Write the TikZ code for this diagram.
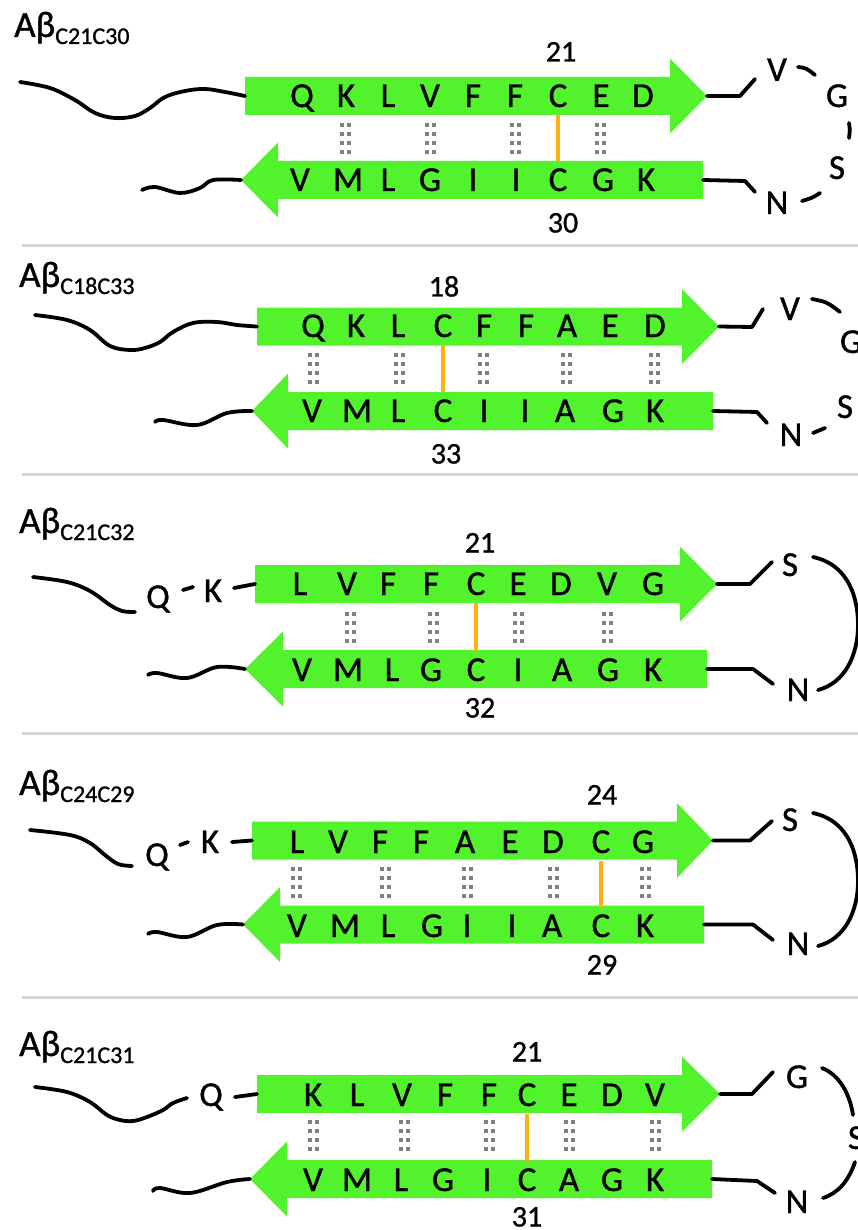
\documentclass[tikz,border=0pt]{standalone}
\usepackage{fontspec}
\setmainfont{Carlito}[UprightFeatures={FakeBold=1.0}]
\definecolor{sgreen}{RGB}{82,243,44}
\definecolor{sorange}{RGB}{255,176,20}
\definecolor{hbgray}{RGB}{128,128,128}
\definecolor{rule}{RGB}{212,212,212}

% rightward beta strand: name, body left x, head base x, tip x, centre y
\newcommand\betaright[5]{%
  \fill[strandfill] (#2,#5-19) -- (#3,#5-19) -- (#3,#5-37.5) -- (#4,#5)
    -- (#3,#5+37.5) -- (#3,#5+19) -- (#2,#5+19) -- cycle;
  \coordinate (#1-in) at (#2,#5);
  \coordinate (#1-out) at (#4,#5);}
% leftward beta strand: name, tip x, head base x, body right x, centre y
\newcommand\betaleft[5]{%
  \fill[strandfill] (#4,#5-19) -- (#3,#5-19) -- (#3,#5-37.5) -- (#2,#5)
    -- (#3,#5+37.5) -- (#3,#5+19) -- (#4,#5+19) -- cycle;
  \coordinate (#1-tip) at (#2,#5);
  \coordinate (#1-end) at (#4,#5);}
% disulfide bridge between two residue nodes, drawn vertically under the upper one
\newcommand\ssbridge[2]{%
  \draw[ssbond] ([yshift=-8pt]#1.south) -- ([yshift=8pt]#1.south |- #2.north);}

\tikzset{
  strandfill/.style={fill=sgreen},
  res/.style={font=\fontsize{35}{35}\selectfont, inner sep=0pt, text height=22pt, text depth=0pt},
  num/.style={font=\fontsize{30}{30}\selectfont, inner sep=0pt, text height=19pt, text depth=0pt},
  ttl/.style={anchor=base west, inner sep=0pt},
  chain/.style={line width=3.8pt, line cap=round, line join=round},
  ssbond/.style={draw=sorange, line width=3.8pt},
  divider/.style={draw=rule, line width=3pt},
  hb/.pic={\foreach \r in {0,9,18,27}{
      \fill[hbgray] (-5.5,\r) rectangle ++(4,4);
      \fill[hbgray] (1.5,\r) rectangle ++(4,4);}}
}
\newcommand\abname[1]{{\fontsize{37}{37}\selectfont Aβ}\raisebox{-7pt}{\fontsize{24}{24}\selectfont #1}}

\begin{document}
\begin{tikzpicture}[x=1pt,y=-1pt]
\useasboundingbox (0,0) rectangle (858,1230);
\clip (0,0) rectangle (858,1230);

% panel separators
\draw[divider] (22,246) coordinate (d1a) -- (858,246) coordinate (d1b);
\draw[divider] (22,474) coordinate (d2a) -- (858,474) coordinate (d2b);
\draw[divider] (22,733) coordinate (d3a) -- (858,733) coordinate (d3b);
\draw[divider] (22,997) coordinate (d4a) -- (858,997) coordinate (d4b);

% ---------------- C21C30 ----------------
\node[ttl] (t1) at (14,37) {\abname{C21C30}};
\betaright{s1u}{245}{670}{707}{96}
\betaleft{s1l}{241}{278}{703}{180}
\foreach \x/\t [count=\i] in {302/Q,346/K,388/L,430/V,473/F,515/F,558/C,601/E,643/D}
  \node[res] (a\i) at (\x,96) {\t};
\foreach \x/\t [count=\i] in {300/V,348/M,388/L,430/G,473/I,516/I,558/C,603/G,646/K}
  \node[res] (b\i) at (\x,180) {\t};
\foreach \x in {345,430,515,600} \pic at (\x,123) {hb};
\ssbridge{a7}{b7}
\node[num] (n1a) at (561,52) {21};
\node[num] (n1b) at (563,223) {30};
\draw[chain] plot[smooth,tension=0.6] coordinates {(20,82) (50,88) (75,100) (95,113) (115,118) (135,116) (150,108) (165,97) (185,91) (205,89) (225,92) (s1u-in)};
\draw[chain] plot[smooth,tension=0.6] coordinates {(142,190) (155,187) (180,193) (200,188) (213,180) (s1l-tip)};
\node[res] (l1v) at (777,70) {V};
\node[res] (l1g) at (837,96) {G};
\node[res] (l1s) at (837,168) {S};
\node[res] (l1n) at (777,203) {N};
\draw[chain] (s1u-out) -- (740,96) -- (755,79);
\draw[chain] (s1l-end) -- (745,181) -- (755,192);
\draw[chain] (798,67) .. controls (806,68) .. (815,75);
\draw[chain] (849,123) .. controls (850,130) .. (849,138);
\draw[chain] (820,193) .. controls (812,198) .. (802,201);

% ---------------- C18C33 ----------------
\node[ttl] (t2) at (19,287) {\abname{C18C33}};
\betaright{s2u}{257}{682}{719}{326.5}
\betaleft{s2l}{252}{288}{713}{411}
\foreach \x/\t [count=\i] in {313/Q,356/K,398/L,443/C,484/F,526/F,567/A,610/E,655/D}
  \node[res] (c\i) at (\x,326) {\t};
\foreach \x/\t [count=\i] in {312/V,357/M,398/L,443/C,484/I,525/I,565/A,613/G,655/K}
  \node[res] (d\i) at (\x,411) {\t};
\foreach \x in {313,399,483,566,654} \pic at (\x,353) {hb};
\ssbridge{c4}{d4}
\node[num] (n2a) at (444,287) {18};
\node[num] (n2b) at (446,454) {33};
\draw[chain] plot[smooth,tension=0.6] coordinates {(35,315) (67,320) (90,330) (110,346) (130,350) (145,348) (160,342) (173,332) (193,323) (217,322) (237,325) (s2u-in)};
\draw[chain] plot[smooth,tension=0.6] coordinates {(155,422) (163,420) (197,425) (227,413) (s2l-tip)};
\node[res] (l2v) at (790,309) {V};
\node[res] (l2g) at (851,342) {G};
\node[res] (l2s) at (845,407) {S};
\node[res] (l2n) at (791,435) {N};
\draw[chain] (s2u-out) -- (752,327) -- (763,309);
\draw[chain] (s2l-end) -- (757,412) -- (767,423);
\draw[chain] (812,299) .. controls (827,302) .. (840,312);
\draw[chain] (825,428) .. controls (819,431) .. (813,433);

% ---------------- C21C32 ----------------
\node[ttl] (t3) at (19,533) {\abname{C21C32}};
\betaright{s3u}{255}{680}{717}{584}
\betaleft{s3l}{245}{283}{707}{669}
\foreach \x/\t [count=\i] in {300/L,347/V,388/F,431/F,476/C,518/E,561/D,607/V,653/G}
  \node[res] (e\i) at (\x,584) {\t};
\foreach \x/\t [count=\i] in {302/V,348/M,392/L,431/G,476/C,518/I,562/A,608/G,653/K}
  \node[res] (f\i) at (\x,670) {\t};
\foreach \x in {350,433,518,607} \pic at (\x,612) {hb};
\ssbridge{e5}{f5}
\node[num] (n3a) at (480,543) {21};
\node[num] (n3b) at (480,708) {32};
\draw[chain] plot[smooth,tension=0.6] coordinates {(33,577) (67,582) (90,591) (110,605) (122,611) (135,612)};
\node[res] (q3) at (158,597) {Q};
\node[res] (k3) at (213,591) {K};
\draw[chain] (183,590) -- (193,587);
\draw[chain] (234,588) -- (s3u-in);
\draw[chain] plot[smooth,tension=0.6] coordinates {(148,675) (157,673) (187,678) (217,667) (s3l-tip)};
\node[res] (l3s) at (790,565) {S};
\node[res] (l3n) at (798,690) {N};
\draw[chain] (s3u-out) -- (750,584) -- (772,562);
\draw[chain] (s3l-end) -- (753,669) -- (773,684);
\draw[chain] (813,557) .. controls (850,565) and (858,600) .. (858,625)
  .. controls (858,655) and (845,683) .. (818,690);

% ---------------- C24C29 ----------------
\node[ttl] (t4) at (19,795) {\abname{C24C29}};
\betaright{s4u}{252}{677}{713}{840.5}
\betaleft{s4l}{243}{280}{704}{924.5}
\foreach \x/\t [count=\i] in {297/L,338/V,380/F,421/F,465/A,510/E,553/D,601/C,643/G}
  \node[res] (g\i) at (\x,842) {\t};
\foreach \x/\t [count=\i] in {297/V,345/M,388/L,432/G,467/I,512/I,552/A,601/C,645/K}
  \node[res] (h\i) at (\x,926) {\t};
\foreach \x in {296,385,467,553,645} \pic at (\x,867) {hb};
\ssbridge{g8}{h8}
\node[num] (n4a) at (602,795) {24};
\node[num] (n4b) at (602,965) {29};
\draw[chain] plot[smooth,tension=0.6] coordinates {(30,830) (70,835) (90,843) (105,855) (118,864) (132,866)};
\node[res] (q4) at (157,855) {Q};
\node[res] (k4) at (210,842) {K};
\draw[chain] (180,845) -- (188,842);
\draw[chain] (232,842) -- (s4u-in);
\draw[chain] plot[smooth,tension=0.6] coordinates {(148,934) (157,932) (187,937) (217,925) (s4l-tip)};
\node[res] (l4s) at (790,820) {S};
\node[res] (l4n) at (798,944) {N};
\draw[chain] (s4u-out) -- (750,840.5) -- (772,821);
\draw[chain] (s4l-end) -- (753,924.5) -- (773,940);
\draw[chain] (813,813) .. controls (850,821) and (858,856) .. (858,881)
  .. controls (858,911) and (845,939) .. (818,946);

% ---------------- C21C31 ----------------
\node[ttl] (t5) at (19,1056) {\abname{C21C31}};
\betaright{s5u}{257}{682}{720}{1094}
\betaleft{s5l}{250}{287}{712}{1179}
\foreach \x/\t [count=\i] in {313/K,357/L,402/V,445/F,489/F,527/C,569/E,612/D,655/V}
  \node[res] (m\i) at (\x,1095) {\t};
\foreach \x/\t [count=\i] in {313/V,357/M,401/L,443/G,487/I,527/C,569/A,612/G,655/K}
  \node[res] (p\i) at (\x,1180) {\t};
\foreach \x in {313,404,489,569,655} \pic at (\x,1120) {hb};
\ssbridge{m6}{p6}
\node[num] (n5a) at (527,1052) {21};
\node[num] (n5b) at (527,1217) {31};
\draw[chain] plot[smooth,tension=0.6] coordinates {(35,1087) (67,1092) (90,1102) (107,1115) (120,1120) (133,1121) (147,1117) (163,1110) (173,1103) (187,1098)};
\node[res] (q5) at (211,1095) {Q};
\draw[chain] (235,1097) -- (s5u-in);
\draw[chain] plot[smooth,tension=0.6] coordinates {(153,1191) (160,1188) (190,1193) (227,1182) (s5l-tip)};
\node[res] (l5g) at (797,1077) {G};
\node[res] (l5s) at (856,1138) {S};
\node[res] (l5n) at (797,1202) {N};
\draw[chain] (s5u-out) -- (752,1094) -- (773,1072);
\draw[chain] (s5l-end) -- (757,1181) -- (775,1193);
\draw[chain] (822,1068) .. controls (840,1075) and (850,1095) .. (853,1115);
\draw[chain] (855,1162) .. controls (848,1182) and (838,1193) .. (823,1198);
\end{tikzpicture}
\end{document}
